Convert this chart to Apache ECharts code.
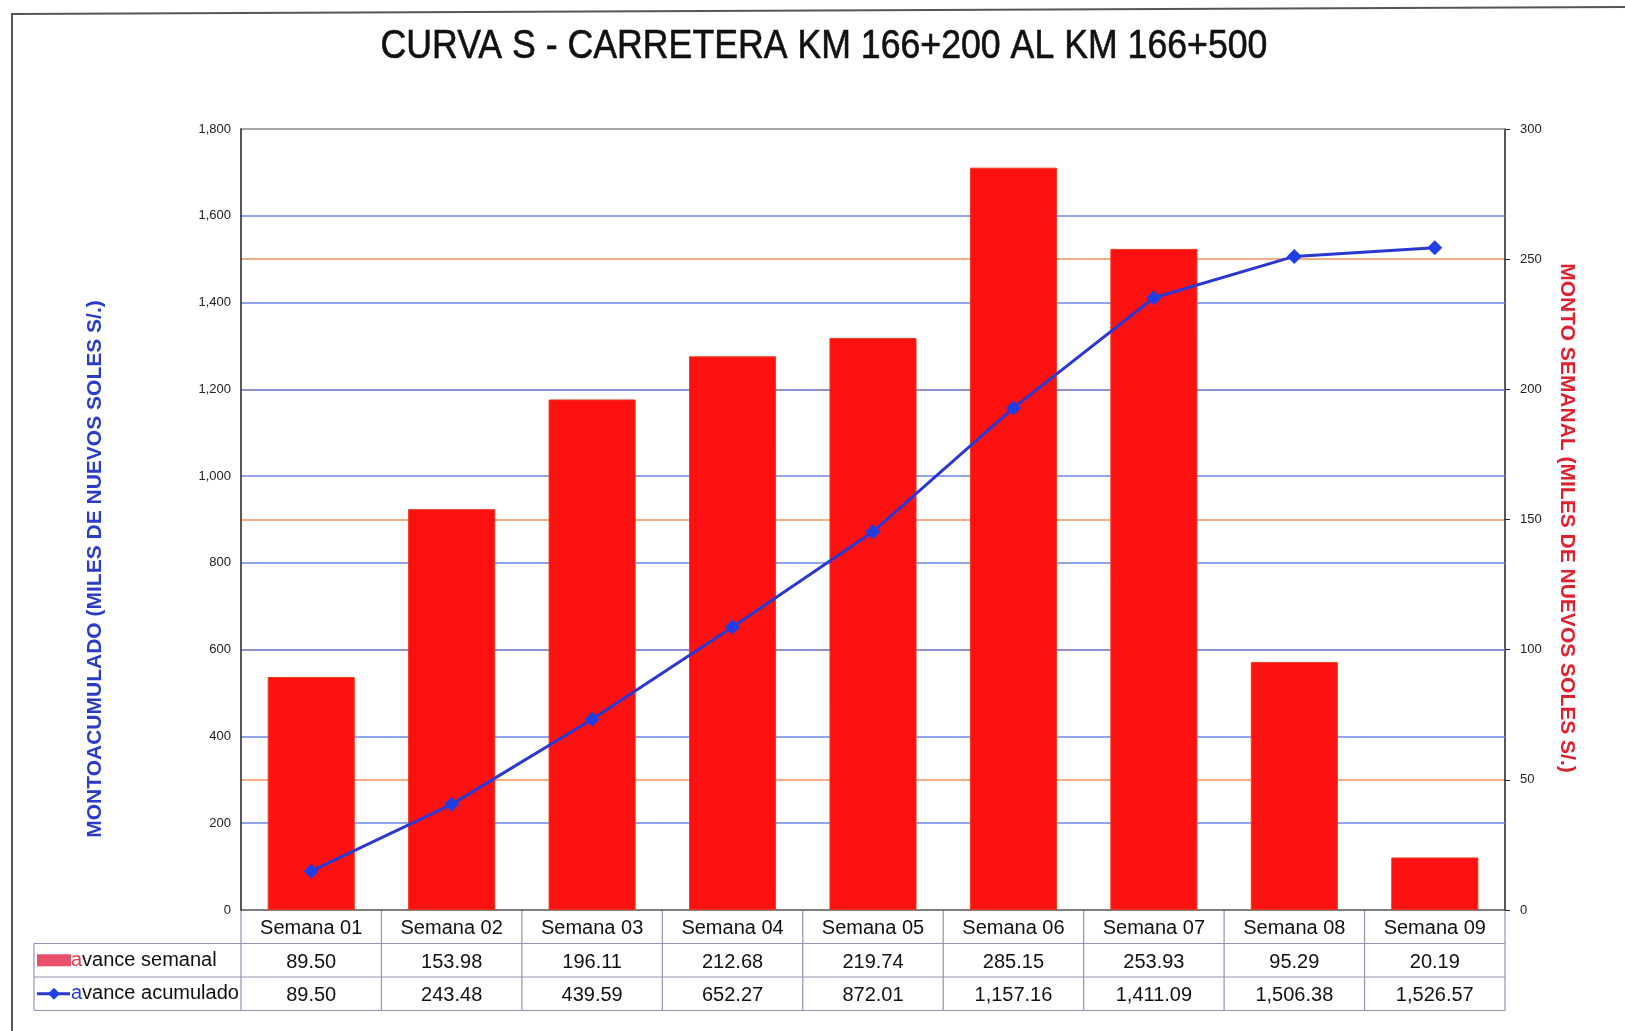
<!DOCTYPE html>
<html>
<head>
<meta charset="utf-8">
<script src="https://cdn.jsdelivr.net/npm/echarts@6/dist/echarts.min.js"></script>
<style>
html,body{margin:0;padding:0;background:#fff;}
#main{width:1625px;height:1031px;}
</style>
</head>
<body>
<div id="main"></div>
<script>
const titleText = 'CURVA S - CARRETERA KM 166+200 AL KM 166+500';
const categories = ['Semana 01','Semana 02','Semana 03','Semana 04','Semana 05','Semana 06','Semana 07','Semana 08','Semana 09'];
const avanceSemanal = [89.50, 153.98, 196.11, 212.68, 219.74, 285.15, 253.93, 95.29, 20.19];
const avanceAcumulado = [89.50, 243.48, 439.59, 652.27, 872.01, 1157.16, 1411.09, 1506.38, 1526.57];
const leftAxisName = 'MONTOACUMULADO (MILES DE NUEVOS SOLES S/.)';
const rightAxisName = 'MONTO SEMANAL (MILES DE NUEVOS SOLES S/.)';
const seriesNames = ['avance semanal', 'avance acumulado'];

const fmt2 = v => v.toLocaleString('en-US', {minimumFractionDigits: 2, maximumFractionDigits: 2});
const fmt0 = v => v.toLocaleString('en-US');

const FONT = "'Liberation Sans', Arial, sans-serif";
const chart = echarts.init(document.getElementById('main'), null, {renderer: 'canvas'});

const GRID = {left: 241, right: 120, top: 129, bottom: 121};
const labelBase = {fontFamily: FONT, fontSize: 20, color: '#111', margin: 8};

const option = {
  backgroundColor: '#ffffff',
  animation: false,
  grid: GRID,
  xAxis: [
    {type: 'category', data: categories, position: 'bottom',
     axisLine: {show: true, lineStyle: {color: '#555', width: 1.5}},
     axisTick: {show: false}, splitLine: {show: false},
     axisLabel: Object.assign({}, labelBase)},
    {type: 'category', data: categories, position: 'bottom', offset: 34,
     axisLine: {show: false}, axisTick: {show: false},
     axisLabel: Object.assign({}, labelBase, {formatter: (v, i) => fmt2(avanceSemanal[i])})},
    {type: 'category', data: categories, position: 'bottom', offset: 67,
     axisLine: {show: false}, axisTick: {show: false},
     axisLabel: Object.assign({}, labelBase, {formatter: (v, i) => fmt2(avanceAcumulado[i])})},
    {type: 'category', data: categories, position: 'top',
     axisLine: {show: true, lineStyle: {color: '#888', width: 1.5}},
     axisTick: {show: false}, axisLabel: {show: false}}
  ],
  yAxis: [
    {type: 'value', min: 0, max: 1800, interval: 200, position: 'left', z: 1,
     axisLine: {show: true, lineStyle: {color: '#222', width: 1.5}},
     axisTick: {show: false},
     axisLabel: {fontFamily: FONT, fontSize: 13, color: '#222', margin: 10, formatter: v => fmt0(v)},
     splitLine: {show: true, showMaxLine: false, showMinLine: false, lineStyle: {color: '#6d86e8', width: 1.5}}},
    {type: 'value', min: 0, max: 300, interval: 50, position: 'right', z: 0,
     axisLine: {show: true, lineStyle: {color: '#222', width: 1.5}},
     axisTick: {show: true, inside: false, length: 5, lineStyle: {color: '#222'}},
     axisLabel: {fontFamily: FONT, fontSize: 13, color: '#222', margin: 15},
     splitLine: {show: true, showMaxLine: false, showMinLine: false, lineStyle: {color: '#f0935c', width: 1.5}}}
  ],
  series: [
    {name: seriesNames[0], type: 'bar', xAxisIndex: 0, yAxisIndex: 1, data: avanceSemanal,
     barWidth: '62%', z: 2,
     itemStyle: {color: '#fd1010', borderColor: '#ef3a1c', borderWidth: 1}},
    {name: seriesNames[1], type: 'line', xAxisIndex: 0, yAxisIndex: 0, data: avanceAcumulado, z: 3,
     symbol: 'diamond', symbolSize: 15,
     lineStyle: {color: '#2b38d2', width: 3},
     itemStyle: {color: '#1f3fe4'}}
  ]
};
chart.setOption(option);

// Data table lines & decorations, positioned from the axis scale
const c0 = chart.convertToPixel({xAxisIndex: 0}, categories[0]);
const c1 = chart.convertToPixel({xAxisIndex: 0}, categories[1]);
const band = c1 - c0;
const yBottom = chart.convertToPixel({yAxisIndex: 0}, 0);
const rowH = 33.5;
const y1 = yBottom + rowH, y2 = yBottom + 2 * rowH, y3 = yBottom + 3 * rowH;
const tableLeft = 34;
const xRight = c0 - band / 2 + categories.length * band;
const lineColor = '#9b90b2';
const g = [];
for (let i = 0; i <= categories.length; i++) {
  const x = c0 - band / 2 + i * band;
  g.push({type: 'line', shape: {x1: x, y1: yBottom, x2: x, y2: y3}, style: {stroke: lineColor, lineWidth: 1.2}, silent: true});
}
[y1, y2, y3].forEach(y => g.push({type: 'line', shape: {x1: tableLeft, y1: y, x2: xRight, y2: y}, style: {stroke: lineColor, lineWidth: 1.2}, silent: true}));
g.push({type: 'line', shape: {x1: tableLeft, y1: y1, x2: tableLeft, y2: y3}, style: {stroke: lineColor, lineWidth: 1.2}, silent: true});
// legend keys
const r1 = (y1 + y2) / 2, r2 = (y2 + y3) / 2;
g.push({type: 'rect', shape: {x: 37, y: r1 - 6, width: 34, height: 12}, style: {fill: '#e9506c'}, silent: true});
g.push({type: 'line', shape: {x1: 37, y1: r2, x2: 70, y2: r2}, style: {stroke: '#2b38d2', lineWidth: 3}, silent: true});
g.push({type: 'polygon', shape: {points: [[54, r2 - 6], [60, r2], [54, r2 + 6], [48, r2]]}, style: {fill: '#1f3fe4'}, silent: true});
g.push({type: 'text', x: 71, y: r1, style: {text: '{a|a}vance semanal', rich: {a: {fill: '#e2384f', fontSize: 20, fontFamily: FONT}}, fontSize: 20, fontFamily: FONT, fill: '#111', textVerticalAlign: 'middle', verticalAlign: 'middle'}, silent: true});
g.push({type: 'text', x: 71, y: r2, style: {text: '{a|a}vance acumulado', rich: {a: {fill: '#2b38d2', fontSize: 20, fontFamily: FONT}}, fontSize: 20, fontFamily: FONT, fill: '#111', textVerticalAlign: 'middle', verticalAlign: 'middle'}, silent: true});
// title
g.push({type: 'text', x: 824, y: 47, scaleX: 0.87, style: {text: titleText, fontSize: 41, fontFamily: FONT, fill: '#111', stroke: '#111', lineWidth: 0.6, textAlign: 'center', align: 'center', textVerticalAlign: 'middle', verticalAlign: 'middle'}, silent: true});
// axis titles
g.push({type: 'text', x: 95, y: 569, rotation: Math.PI / 2, style: {text: leftAxisName, fontSize: 21, fontWeight: 'bold', fontFamily: FONT, fill: '#2a3cc8', textAlign: 'center', align: 'center', textVerticalAlign: 'middle', verticalAlign: 'middle'}, silent: true});
g.push({type: 'text', x: 1567, y: 518, rotation: -Math.PI / 2, style: {text: rightAxisName, fontSize: 21, fontWeight: 'bold', fontFamily: FONT, fill: '#e0202e', textAlign: 'center', align: 'center', textVerticalAlign: 'middle', verticalAlign: 'middle'}, silent: true});
// outer frame
g.push({type: 'polyline', shape: {points: [[12, 1031], [12, 14], [1625, 7]]}, style: {stroke: '#555', lineWidth: 2, fill: null}, silent: true});
chart.setOption({graphic: g});
</script>
</body>
</html>
